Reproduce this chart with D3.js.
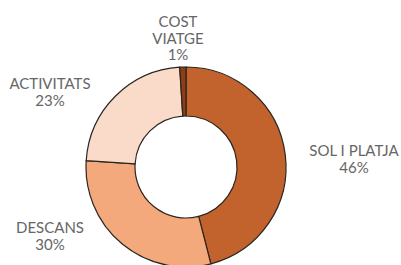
<!DOCTYPE html>
<html>
<head>
<meta charset="utf-8">
<script src="https://cdn.jsdelivr.net/npm/d3@7"></script>
<style>
  body { margin: 0; background: #fff; }
</style>
</head>
<body>
<div id="chart"></div>
<script>
const categories = ["SOL I PLATJA", "DESCANS", "ACTIVITATS", "COST VIATGE"];
const values = [46, 30, 23, 1];
const colors = ["#c2622c", "#f4a97c", "#fadbc9", "#8e3d17"];

const size = { x: 401, y: 265 };
const center = { x: 186, y: 167 };
const radius = { outer: 100, inner: 51 };

// label anchor (center x, first baseline) per category
const labelPos = {
  "SOL I PLATJA": [354, 156],
  "DESCANS": [50, 233],
  "ACTIVITATS": [50, 89],
  "COST VIATGE": [178, 27]
};
const lineHeight = 16.5;

const data = categories.map((c, i) => ({ name: c, value: values[i], color: colors[i] }));

const svg = d3.select("#chart")
  .append("svg")
  .attr("width", size.x)
  .attr("height", size.y);

const pie = d3.pie().sort(null).value(d => d.value);
const arc = d3.arc().innerRadius(radius.inner).outerRadius(radius.outer);

svg.append("g")
  .attr("transform", `translate(${center.x},${center.y})`)
  .selectAll("path")
  .data(pie(data))
  .enter()
  .append("path")
  .attr("d", arc)
  .attr("fill", d => d.data.color)
  .attr("stroke", "#2b2520")
  .attr("stroke-width", 1.2);

const labels = svg.append("g")
  .selectAll("text")
  .data(data)
  .enter()
  .append("text")
  .attr("text-anchor", "middle")
  .attr("font-family", "Lato, 'Open Sans', sans-serif")
  .attr("font-size", "15px")
  .attr("fill", "#666");

labels.each(function (d) {
  const [x, y] = labelPos[d.name];
  const lines = d.name === "COST VIATGE" ? ["COST", "VIATGE"] : [d.name];
  lines.push(`${d.value}%`);
  d3.select(this)
    .selectAll("tspan")
    .data(lines)
    .enter()
    .append("tspan")
    .attr("x", x)
    .attr("y", (l, i) => y + i * lineHeight)
    .text(l => l);
});
</script>
</body>
</html>
